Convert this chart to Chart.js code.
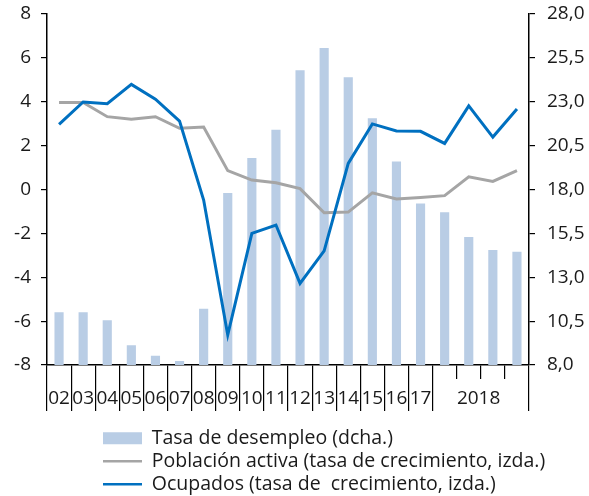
<!DOCTYPE html>
<html>
<head>
<meta charset="utf-8">
<script src="https://cdn.jsdelivr.net/npm/chart.js@4.4.1/dist/chart.umd.min.js"></script>
<style>
html,body{margin:0;padding:0;background:#fff;}
#wrap{width:589px;height:496px;position:relative;}
</style>
</head>
<body>
<div id="wrap"><canvas id="c"></canvas></div>
<script>
// ---- data ----
const categories = ['2002','2003','2004','2005','2006','2007','2008','2009','2010','2011',
  '2012','2013','2014','2015','2016','2017','2018T1','2018T2','2018T3','2018T4'];
const tickLabels = ['02','03','04','05','06','07','08','09','10','11',
  '12','13','14','15','16','17','','    2018','',''];
const unemploymentRate = [11.0,11.0,10.55,9.12,8.53,8.23,11.2,17.8,19.8,21.4,
  24.8,26.06,24.4,22.06,19.6,17.2,16.7,15.3,14.55,14.45];
const activePopulation = [3.97,3.97,3.32,3.2,3.32,2.79,2.85,0.86,0.43,0.31,
  0.04,-1.06,-1.03,-0.15,-0.43,-0.36,-0.28,0.58,0.37,0.86];
const employed = [2.97,3.99,3.91,4.79,4.12,3.12,-0.48,-6.63,-2.0,-1.62,
  -4.28,-2.8,1.19,2.99,2.67,2.65,2.1,3.81,2.39,3.67];
const seriesNames = ['Tasa de desempleo (dcha.)',
  'Población activa (tasa de crecimiento, izda.)',
  'Ocupados (tasa de  crecimiento, izda.)'];
const quarterBoundaries = [17,18,19];

// ---- styling ----
const FONT = 'Open Sans';
const tickFont = {family: FONT, size: 19};
const legendFontSize = 19.5;
const textColor = '#1a1a1a';

const legendPlace = {
  id: 'legendPlace',
  beforeDraw(chart) {
    const lg = chart.legend;
    const pad = lg.options.labels.padding;
    const w = lg.right - lg.left;
    lg.left = 103 - pad;
    lg.right = lg.left + w;
    lg.top = chart.scales.x2.bottom + 8;
  }
};

new Chart(document.getElementById('c'), {
  data: {
    labels: categories,
    datasets: [
      {type:'bar', label: seriesNames[0], data: unemploymentRate, yAxisID:'y1',
       backgroundColor:'#B9CDE5', borderWidth:0, barPercentage:0.38, categoryPercentage:1,
       pointStyle:'rect', order:3},
      {type:'line', label: seriesNames[1], data: activePopulation, yAxisID:'y',
       borderColor:'#A5A5A5', backgroundColor:'#A5A5A5', borderWidth:3, pointRadius:0,
       tension:0, pointStyle:'line', order:2},
      {type:'line', label: seriesNames[2], data: employed, yAxisID:'y',
       borderColor:'#0070C0', backgroundColor:'#0070C0', borderWidth:3, pointRadius:0,
       tension:0, pointStyle:'line', order:1}
    ]
  },
  options: {
    responsive: true,
    maintainAspectRatio: false,
    animation: false,
    layout: {padding: {top: 14, left: 0, right: 0, bottom: 0}},
    plugins: {
      tooltip: {enabled:false},
      legend: {
        position:'bottom', align:'start',
        labels: {
          usePointStyle:true, pointStyleWidth:39, boxHeight:12,
          padding:3.5, color:textColor, font:{family:FONT, size:legendFontSize},
          sort:(a,b)=>a.datasetIndex-b.datasetIndex,
          generateLabels:(chart)=>Chart.defaults.plugins.legend.labels.generateLabels(chart)
            .map(l=>Object.assign(l,{lineWidth: l.datasetIndex===0?0:2.5}))
        }
      }
    },
    scales: {
      x: {
        type:'category', position:'bottom', offset:true, weight:0,
        grid:{offset:true, drawOnChartArea:false, tickLength:14, color:'#000', lineWidth:1.2},
        border:{display:true, color:'#000', width:1.5},
        ticks:{display:false}
      },
      x2: {
        type:'category', labels: tickLabels, position:'bottom', offset:true, weight:1,
        grid:{offset:true, drawOnChartArea:false, tickLength:32, lineWidth:1.2,
              tickColor:(ctx)=>quarterBoundaries.includes(ctx.index)?'rgba(0,0,0,0)':'#000'},
        border:{display:false},
        ticks:{autoSkip:false, maxRotation:0, minRotation:0, mirror:true, padding:-31,
               font:tickFont, color:textColor},
        afterFit(s){ s.height = 38; }
      },
      y: {
        position:'left', min:-8, max:8,
        ticks:{stepSize:2, padding:10, font:tickFont, color:textColor},
        grid:{drawOnChartArea:false, tickLength:6, color:'#000', lineWidth:1.2},
        border:{color:'#000', width:1.5},
        afterFit(s){ s.width = 47; s.paddingTop = 0; s.paddingBottom = 0; }
      },
      y1: {
        position:'right', min:8, max:28,
        ticks:{stepSize:2.5, padding:12, font:tickFont, color:textColor,
               callback:(v)=>v.toFixed(1).replace('.', ',')},
        grid:{drawOnChartArea:false, tickLength:6, color:'#000', lineWidth:1.2},
        border:{color:'#000', width:1.5},
        afterFit(s){ s.width = 60; s.paddingTop = 0; s.paddingBottom = 0; }
      }
    }
  },
  plugins:[legendPlace]
});
</script>
</body>
</html>
